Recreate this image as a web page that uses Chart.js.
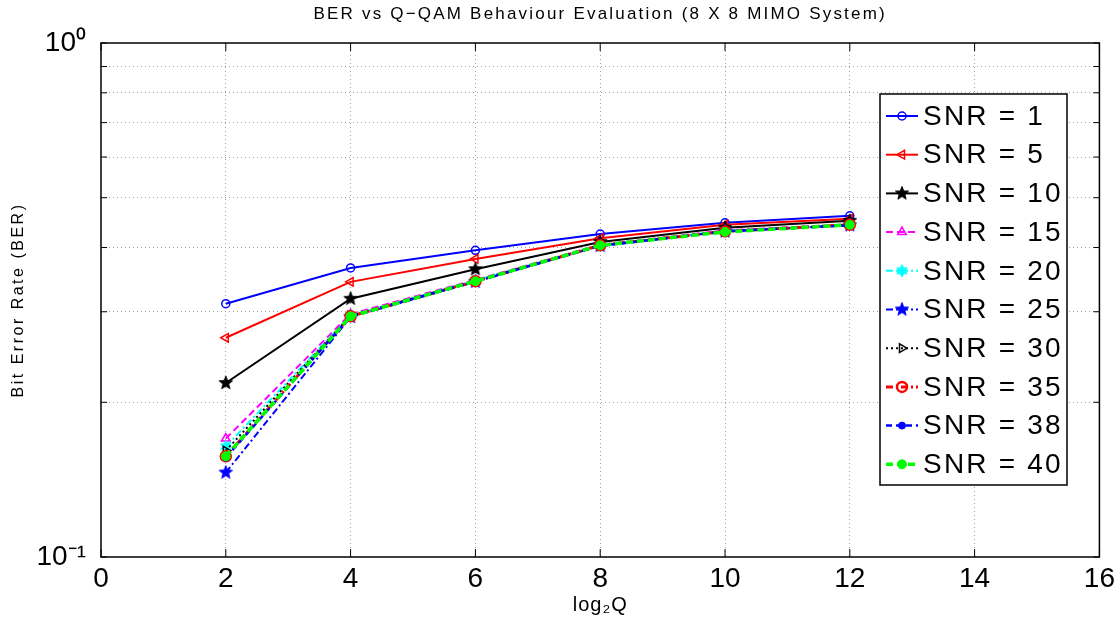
<!DOCTYPE html>
<html>
<head>
<meta charset="utf-8">
<script src="https://cdn.jsdelivr.net/npm/chart.js@4/dist/chart.umd.min.js"></script>
<style>
  html, body { margin: 0; padding: 0; background: #fff; }
  #wrap { width: 1120px; height: 625px; }
</style>
</head>
<body>
<div id="wrap"><canvas id="myChart" width="1120" height="625"></canvas></div>
<script>
document.addEventListener('DOMContentLoaded', function () {

  // Données
  var xTicks = [0, 2, 4, 6, 8, 10, 12, 14, 16];
  var yTicks = [0.1, 0.2, 0.3, 0.4, 0.5, 0.6, 0.7, 0.8, 0.9, 1];
  var yTickLabels = { '0.1': '10\u207B\u00B9', '1': '10\u2070' };
  var log2Q = [2, 4, 6, 8, 10, 12];
  var snrLabels = ['SNR = 1', 'SNR = 5', 'SNR = 10', 'SNR = 15', 'SNR = 20',
                   'SNR = 25', 'SNR = 30', 'SNR = 35', 'SNR = 38', 'SNR = 40'];

  var ber1  = [0.311, 0.365, 0.395, 0.425, 0.447, 0.461];
  var ber5  = [0.267, 0.343, 0.380, 0.417, 0.443, 0.455];
  var ber10 = [0.218, 0.318, 0.363, 0.410, 0.437, 0.451];
  var ber15 = [0.170, 0.297, 0.346, 0.405, 0.432, 0.444];
  var ber20 = [0.164, 0.295, 0.345, 0.404, 0.431, 0.443];
  var ber25 = [0.146, 0.293, 0.343, 0.403, 0.430, 0.442];
  var ber30 = [0.161, 0.295, 0.344, 0.404, 0.430, 0.443];
  var ber35 = [0.157, 0.294, 0.344, 0.404, 0.430, 0.443];
  var ber38 = [0.156, 0.294, 0.344, 0.403, 0.430, 0.442];
  var ber40 = [0.157, 0.294, 0.344, 0.404, 0.429, 0.443];

  var FONT = '"Liberation Sans", Arial, sans-serif';

  // Marqueurs étoile (pentagramme / hexagramme)
  function starCanvas(n, r, fill, stroke) {
    var c = document.createElement('canvas');
    var s = Math.ceil(r * 2 + 4);
    c.width = s; c.height = s;
    var g = c.getContext('2d');
    g.beginPath();
    var inner = n === 5 ? r * 0.42 : r * 0.55;
    for (var i = 0; i < n * 2; i++) {
      var rr = i % 2 === 0 ? r : inner;
      var a = -Math.PI / 2 + i * Math.PI / n;
      var px = s / 2 + rr * Math.cos(a), py = s / 2 + rr * Math.sin(a);
      if (i === 0) g.moveTo(px, py); else g.lineTo(px, py);
    }
    g.closePath();
    if (fill) { g.fillStyle = fill; g.fill(); }
    g.lineWidth = 1;
    g.strokeStyle = stroke;
    g.stroke();
    return c;
  }

  var starBlack = starCanvas(5, 7, '#000', '#000');
  var starBlue = starCanvas(5, 7, '#0000ff', '#0000ff');
  var hexCyan = starCanvas(6, 6, '#00ffff', '#00ffff');

  function ds(i, data, color, dash, width, pStyle, pRadius, pFill, pRot, pBorder) {
    return {
      label: snrLabels[i],
      data: data.map(function (v, k) { return { x: log2Q[k], y: v }; }),
      borderColor: color,
      backgroundColor: color,
      borderWidth: width,
      borderDash: dash,
      pointStyle: pStyle,
      pointRadius: pRadius,
      pointHoverRadius: pRadius,
      pointBackgroundColor: pFill,
      pointBorderColor: color,
      pointBorderWidth: pBorder,
      pointRotation: pRot,
      fill: false,
      tension: 0,
      order: 10 - i
    };
  }

  var none = 'rgba(0,0,0,0)';
  var datasets = [
    ds(0, ber1,  '#0000ff', [],           2,   'circle',   4,   none,      0,   1.5),
    ds(1, ber5,  '#ff0000', [],           2,   'triangle', 5,   none,      -90, 1.5),
    ds(2, ber10, '#000000', [],           2,   starBlack,  7,   '#000',    0,   1),
    ds(3, ber15, '#ff00ff', [7, 4],       2,   'triangle', 5,   none,      0,   1.5),
    ds(4, ber20, '#00ffff', [7, 3, 2, 3], 2,   hexCyan,    6,   '#00ffff', 0,   1),
    ds(5, ber25, '#0000ff', [7, 3, 2, 3], 2,   starBlue,   7,   '#0000ff', 0,   1),
    ds(6, ber30, '#000000', [2, 3],       2,   'triangle', 5,   none,      90,  1.5),
    ds(7, ber35, '#ff0000', [7, 3, 2, 3], 3,   'circle',   5,   none,      0,   2.5),
    ds(8, ber38, '#0000ff', [6, 4],       2.5, 'circle',   3.5, '#0000ff', 0,   1),
    ds(9, ber40, '#00ff00', [7, 4],       3.5, 'circle',   4.5, '#00ff00', 0,   1)
  ];

  // Cadre complet, petites graduations internes et légende dans le graphique
  var boxAndLegend = {
    id: 'boxAndLegend',
    afterLayout: function (chart) {
      // titre centré sur la zone de tracé
      chart.titleBlock.left = chart.chartArea.left;
      chart.titleBlock.right = chart.chartArea.right;
    },
    afterDraw: function (chart) {
      var c = chart.ctx, a = chart.chartArea;
      var sx = chart.scales.x, sy = chart.scales.y;
      c.save();
      c.strokeStyle = '#000';
      c.lineWidth = 1;
      c.beginPath();
      sx.ticks.forEach(function (t) {
        var px = sx.getPixelForValue(t.value);
        c.moveTo(px, a.bottom); c.lineTo(px, a.bottom - 8);
        c.moveTo(px, a.top); c.lineTo(px, a.top + 8);
      });
      sy.ticks.forEach(function (t) {
        var py = sy.getPixelForValue(t.value);
        c.moveTo(a.left, py); c.lineTo(a.left + 6, py);
        c.moveTo(a.right, py); c.lineTo(a.right - 6, py);
      });
      c.stroke();

      c.lineWidth = 1.5;
      c.strokeRect(a.left, a.top, a.right - a.left, a.bottom - a.top);

      var lx = 880, ly = 94, lw = 187, lh = 391;
      c.fillStyle = '#fff';
      c.fillRect(lx, ly, lw, lh);
      c.lineWidth = 1.5;
      c.strokeRect(lx, ly, lw, lh);

      chart.data.datasets.forEach(function (d, i) {
        var y = 116 + i * 38.7;
        c.save();
        c.strokeStyle = d.borderColor;
        c.lineWidth = d.borderWidth;
        c.setLineDash(d.borderDash);
        c.beginPath();
        c.moveTo(886, y);
        c.lineTo(918, y);
        c.stroke();
        c.setLineDash([]);
        c.fillStyle = d.pointBackgroundColor;
        c.strokeStyle = d.pointBorderColor;
        c.lineWidth = d.pointBorderWidth;
        Chart.helpers.drawPoint(c, {
          pointStyle: d.pointStyle,
          radius: d.pointRadius,
          rotation: d.pointRotation,
          borderWidth: d.pointBorderWidth
        }, 902, y);
        c.restore();
        c.save();
        c.font = '28px ' + FONT;
        c.letterSpacing = '2.2px';
        c.textBaseline = 'middle';
        c.textAlign = 'left';
        c.fillStyle = '#000';
        c.fillText(d.label, 923, y + 1);
        c.restore();
      });
      c.restore();
    }
  };

  var ctx = document.getElementById('myChart').getContext('2d');

  var config = {
    type: 'line',
    data: { datasets: datasets },
    options: {
      responsive: false,
      animation: false,
      layout: { padding: { left: 0, right: 19, top: 0, bottom: 0 } },
      plugins: {
        legend: { display: false },
        tooltip: { enabled: false },
        title: {
          display: true,
          text: 'BER vs Q\u2212QAM Behaviour Evaluation (8 X 8 MIMO System)',
          color: '#000',
          font: { family: FONT, size: 17, weight: 'normal', lineHeight: 1.2 },
          padding: { top: 4, bottom: 18.6 }
        }
      },
      scales: {
        x: {
          type: 'linear',
          min: 0,
          max: 16,
          afterFit: function (s) { s.height = 68; },
          afterBuildTicks: function (s) { s.ticks = xTicks.map(function (v) { return { value: v }; }); },
          ticks: {
            color: '#000',
            padding: 5,
            font: { family: FONT, size: 28 },
            maxRotation: 0
          },
          grid: {
            color: function (c) { return (c.tick && (c.tick.value === 0 || c.tick.value === 16)) ? none : '#a0a0a0'; },
            lineWidth: 1,
            drawTicks: false
          },
          border: { display: false, dash: [1, 3] },
          title: {
            display: true,
            text: 'log\u2082Q',
            color: '#000',
            font: { family: FONT, size: 20, lineHeight: 1.2 },
            padding: { top: 0, bottom: 8 }
          }
        },
        y: {
          type: 'logarithmic',
          min: 0.1,
          max: 1,
          afterFit: function (s) { s.width = 101; },
          afterBuildTicks: function (s) { s.ticks = yTicks.map(function (v) { return { value: v }; }); },
          ticks: {
            color: '#000',
            padding: 15,
            autoSkip: false,
            font: { family: FONT, size: 28 },
            callback: function (v) {
              return yTickLabels[String(v)] || '';
            }
          },
          grid: {
            color: function (c) {
              var v = c.tick ? c.tick.value : 0;
              return (v === 0.1 || v === 1) ? none : '#a0a0a0';
            },
            lineWidth: 1,
            drawTicks: false
          },
          border: { display: false, dash: [1, 3] },
          title: {
            display: true,
            text: 'Bit Error Rate (BER)',
            color: '#000',
            font: { family: FONT, size: 16, lineHeight: 1.2 },
            padding: { top: 9, bottom: 0 }
          }
        }
      }
    },
    plugins: [boxAndLegend]
  };

  var myChart = new Chart(ctx, config);

  // Espacement des lettres comme sur la figure d'origine
  function spaced(obj, method, spacing) {
    var orig = obj[method];
    obj[method] = function () {
      var c = this.ctx;
      var prev = c.letterSpacing;
      c.letterSpacing = spacing;
      orig.apply(this, arguments);
      c.letterSpacing = prev;
    };
  }
  spaced(myChart.titleBlock, 'draw', '2.2px');
  spaced(myChart.scales.y, 'drawTitle', '2.5px');
  spaced(myChart.scales.x, 'drawTitle', '1px');
  myChart.draw();
});
</script>
</body>
</html>
